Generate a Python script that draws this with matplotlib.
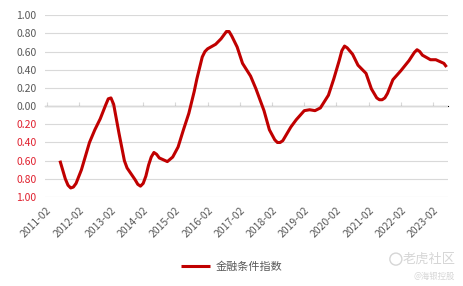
import matplotlib
matplotlib.use("Agg")
import matplotlib.pyplot as plt
from matplotlib.patches import Ellipse

plt.rcParams['font.family'] = ['Noto Sans CJK SC', 'DejaVu Sans']

# 金融条件指数 (month, value)
dates = ["2011-07", "2011-09", "2011-10", "2011-11", "2011-12", "2012-01", "2012-03",
         "2012-06", "2012-08", "2012-10", "2012-12", "2013-01", "2013-02", "2013-03",
         "2013-05", "2013-07", "2013-08", "2013-11", "2013-12", "2014-01", "2014-02",
         "2014-03", "2014-04", "2014-05", "2014-06", "2014-07", "2014-08", "2014-11",
         "2015-01", "2015-03", "2015-05", "2015-07", "2015-09", "2015-10", "2015-12",
         "2016-01", "2016-02", "2016-05", "2016-07", "2016-09", "2016-10", "2016-11",
         "2017-01", "2017-03", "2017-06", "2017-08", "2017-11", "2018-01", "2018-03",
         "2018-04", "2018-05", "2018-06", "2018-09", "2018-11", "2019-02", "2019-04",
         "2019-06", "2019-08", "2019-11", "2020-01", "2020-03", "2020-04", "2020-05",
         "2020-06", "2020-08", "2020-10", "2021-01", "2021-03", "2021-05", "2021-06",
         "2021-07", "2021-08", "2021-09", "2021-11", "2022-02", "2022-05", "2022-07",
         "2022-08", "2022-09", "2022-10", "2023-01", "2023-03", "2023-06", "2023-07"]
values = [-0.60, -0.80, -0.87, -0.90, -0.89, -0.85, -0.70,
          -0.40, -0.26, -0.14, 0.01, 0.08, 0.09, 0.02,
          -0.30, -0.60, -0.68, -0.81, -0.86, -0.88, -0.85,
          -0.77, -0.65, -0.56, -0.51, -0.53, -0.57, -0.61,
          -0.56, -0.45, -0.26, -0.08, 0.16, 0.30, 0.54,
          0.60, 0.63, 0.68, 0.74, 0.82, 0.82, 0.77,
          0.65, 0.47, 0.33, 0.19, -0.05, -0.26, -0.37,
          -0.40, -0.40, -0.38, -0.23, -0.15, -0.05, -0.04,
          -0.05, -0.02, 0.12, 0.30, 0.50, 0.61, 0.66,
          0.64, 0.57, 0.45, 0.36, 0.19, 0.09, 0.07,
          0.07, 0.09, 0.14, 0.29, 0.39, 0.50, 0.59,
          0.62, 0.60, 0.56, 0.51, 0.51, 0.47, 0.43]

tick_labels = ["2011-02", "2012-02", "2013-02", "2014-02", "2015-02", "2016-02", "2017-02",
               "2018-02", "2019-02", "2020-02", "2021-02", "2022-02", "2023-02"]
y_ticks = [1.0, 0.8, 0.6, 0.4, 0.2, 0.0, -0.2, -0.4, -0.6, -0.8, -1.0]


def month_index(s):
    y, m = s.split("-")
    return (int(y) - 2011) * 12 + int(m) - 2


xs = [month_index(d) for d in dates]
tick_pos = [month_index(t) for t in tick_labels]

grey = '#595959'
grid_c = '#d9d9d9'
red_neg = '#e0202e'

fig = plt.figure(figsize=(4.63, 2.86), dpi=100)
ax = fig.add_axes([0.097, 0.311, 0.871, 0.636])

ax.plot(xs, values, color='#c00000', linewidth=2.2, solid_joinstyle='round',
        solid_capstyle='butt', label='金融条件指数', zorder=3)

ax.set_xlim(-0.6, 149.6)
ax.set_ylim(-1.0, 1.0)
ax.set_yticks(y_ticks)
ax.set_yticklabels([f"{abs(v):.2f}" for v in y_ticks])
for lab, v in zip(ax.get_yticklabels(), y_ticks):
    lab.set_color(red_neg if v < 0 else grey)
ax.tick_params(axis='y', length=0, labelsize=7.5, pad=6)

ax.grid(axis='y', color=grid_c, linewidth=0.8)
ax.set_axisbelow(True)
for s in ax.spines.values():
    s.set_visible(False)

ax.set_xticks(tick_pos)
ax.set_xticklabels(tick_labels, rotation=45, ha='right', va='top',
                   rotation_mode='anchor', color=grey, fontsize=7.5)
ax.tick_params(axis='x', length=0, pad=6)

# axis line with tick marks at zero
sec = ax.secondary_xaxis(0.5)
sec.set_xticks(tick_pos)
sec.set_xticklabels([])
sec.tick_params(axis='x', length=3, color=grid_c, width=0.8, direction='out')
sec.spines['bottom'].set_color(grid_c)
sec.spines['bottom'].set_linewidth(0.8)

leg = fig.legend(loc='center', bbox_to_anchor=(0.5, 0.067), frameon=False,
                 fontsize=8, handlelength=2.6, handletextpad=0.5)
for t in leg.get_texts():
    t.set_color(grey)

# watermark
fig.text(0.983, 0.094, '老虎社区', ha='right', va='center', fontsize=9.5, color='#d6d6d6')
fig.text(0.983, 0.035, '@海银控股', ha='right', va='center', fontsize=6, color='#d6d6d6')
fig.patches.append(Ellipse((0.855, 0.094), 0.026, 0.042, transform=fig.transFigure,
                           fill=False, edgecolor='#d6d6d6', linewidth=1))

fig.savefig('out.png', dpi=100)
